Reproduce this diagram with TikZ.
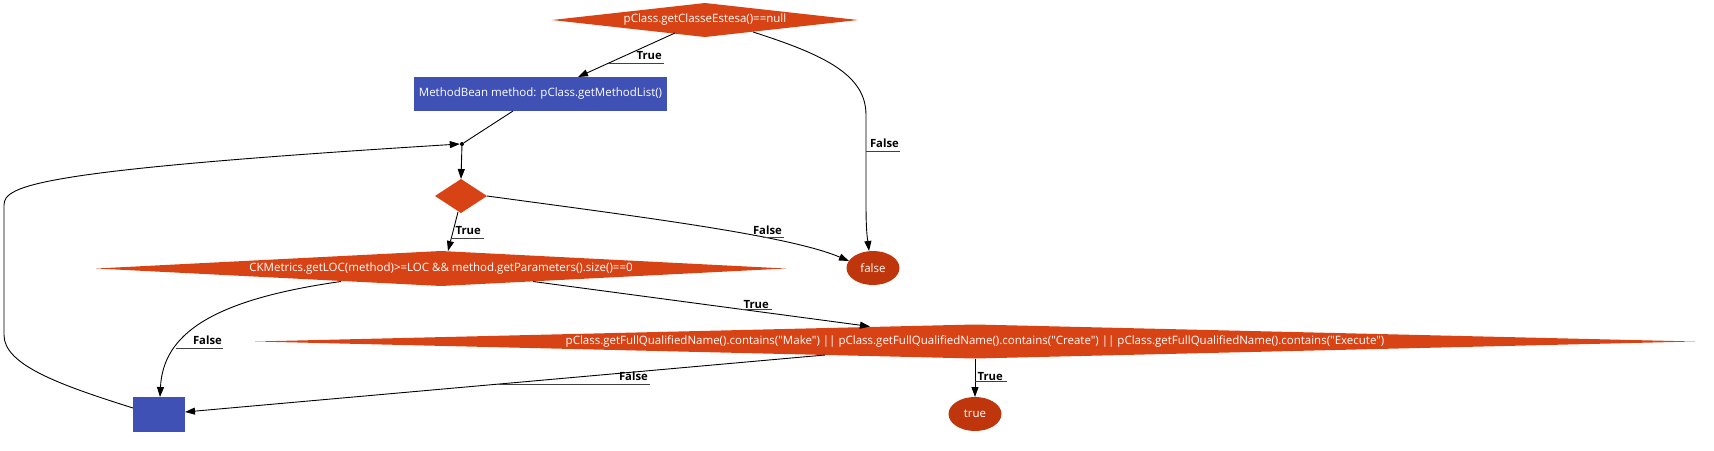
\documentclass[tikz,border=0pt]{standalone}
\usepackage{fontspec}
\setmainfont{Open Sans}[Ligatures=TeXOff]
\usetikzlibrary{shapes.geometric,arrows.meta,calc}
\definecolor{dorange}{HTML}{D84315}
\definecolor{dred}{HTML}{BF360C}
\definecolor{indigo}{HTML}{3F51B5}
\begin{document}
\begin{tikzpicture}[x=1pt,y=-1pt,
  nodefont/.style={font=\fontsize{11.5}{13}\selectfont},
  cond/.style={diamond, fill=dorange, inner sep=0pt, outer sep=0pt, text=white, nodefont},
  act/.style={rectangle, fill=indigo, inner sep=0pt, outer sep=0pt, text=white, nodefont},
  term/.style={ellipse, fill=dred, inner sep=0pt, outer sep=0pt, minimum width=53pt, minimum height=34pt, text=white, nodefont},
  flow/.style={draw=black, line width=0.9pt, -{Triangle[length=10pt,width=7pt]}},
  plainline/.style={draw=black, line width=0.9pt},
  lbl/.style={inner sep=0pt, font=\bfseries\fontsize{11.3}{13}\selectfont, anchor=base east},
  ul/.style={draw=black!75, line width=0.8pt},
]
\useasboundingbox (0,0) rectangle (1714,450);

% nodes
\node[cond, minimum width=306pt, minimum height=34pt] (d1) at (705,20) {\makebox[0pt]{pClass.getClasseEstesa()==null}};
\node[act, minimum width=253pt, minimum height=34pt] (m) at (540.5,94) {MethodBean method: pClass.getMethodList()};
\node[circle, fill=black, inner sep=0pt, minimum size=4pt] (j) at (462,144) {};
\node[cond, minimum width=52pt, minimum height=34pt] (d2) at (461,196) {};
\node[cond, minimum width=690pt, minimum height=35pt] (d3) at (441,268.5) {\makebox[0pt]{CKMetrics.getLOC(method)>=LOC \&\& method.getParameters().size()==0}};
\node[term] (f) at (873,268) {false};
\node[cond, minimum width=1440pt, minimum height=34pt] (d4) at (975,341.5) {\makebox[0pt]{pClass.getFullQualifiedName().contains("Make") || pClass.getFullQualifiedName().contains("Create") || pClass.getFullQualifiedName().contains("Execute")}};
\node[term] (t) at (975,414) {true};
\node[act, minimum width=52pt, minimum height=35pt] (b) at (159,414.5) {};

% edge labels
\node[lbl] (l1) at (662,59) {True};
\node[lbl] (l2) at (899,147) {False};
\node[lbl] (l3) at (782,234) {False};
\node[lbl] (l4) at (481,234) {True};
\node[lbl] (l5) at (222,344) {False};
\node[lbl] (l6) at (769,308) {True};
\node[lbl] (l7) at (648,380) {False};
\node[lbl] (l8) at (1003,380) {True};

% connectors
\draw[flow] ($(d1)+(-30,13)$) -- coordinate[pos=0.68] (e1) ($(m)+(37.5,-17)$);
\draw[flow] ($(d1)+(48,12)$) .. controls (825,55) and (866,75) .. (866,115) -- (866,205)
   .. controls (866,235) and (868,242) .. ($(f)+(-4,-17)$);
\coordinate (e2) at (866,151);
\draw[plainline] ($(m)+(-27.5,17)$) -- (j);
\draw[flow] (j) -- (d2.north);
\draw[flow] ($(b)+(-26,-6.5)$) .. controls (60,385) and (4,365) .. (4,335) -- (4,205)
   .. controls (4,185) and (40,170) .. (j.west);
\draw[flow] (d2.east) .. controls (650,218) and (790,236) .. coordinate[pos=0.66] (e3) ($(f)+(-24,-7)$);
\draw[flow] ($(d2)+(-3,16)$) -- coordinate[pos=0.667] (e4) ($(d3)+(7,-17.5)$);
\draw[flow] ($(d3)+(-100,13)$) .. controls (210,300) and (163,335) .. coordinate[pos=0.7] (e5) ($(b)+(1,-17.5)$);
\draw[flow] ($(d3)+(92,13)$) -- coordinate[pos=0.62] (e6) ($(d4)+(-105,-15)$);
\draw[flow] ($(d4)+(-150,13.5)$) -- coordinate[pos=0.509] (e7) ($(b)+(26,-2.5)$);
\draw[flow] (d4.south) -- coordinate[pos=0.6] (e8) (t.north);

% label underlines
\draw[ul] (e1) -- ([xshift=2pt]e1 -| l1.east);
\draw[ul] (e2) -- ([xshift=1pt]e2 -| l2.east);
\draw[ul] (e3) -- ([xshift=2pt]e3 -| l3.east);
\draw[ul] (e4) -- ([xshift=3pt]e4 -| l4.east);
\draw[ul] (e5) -- ([xshift=1pt]e5 -| l5.east);
\draw[ul] (e6) -- ([xshift=3pt]e6 -| l6.east);
\draw[ul] (e7) -- ([xshift=2pt]e7 -| l7.east);
\draw[ul] (e8) -- ([xshift=4pt]e8 -| l8.east);
\end{tikzpicture}
\end{document}
